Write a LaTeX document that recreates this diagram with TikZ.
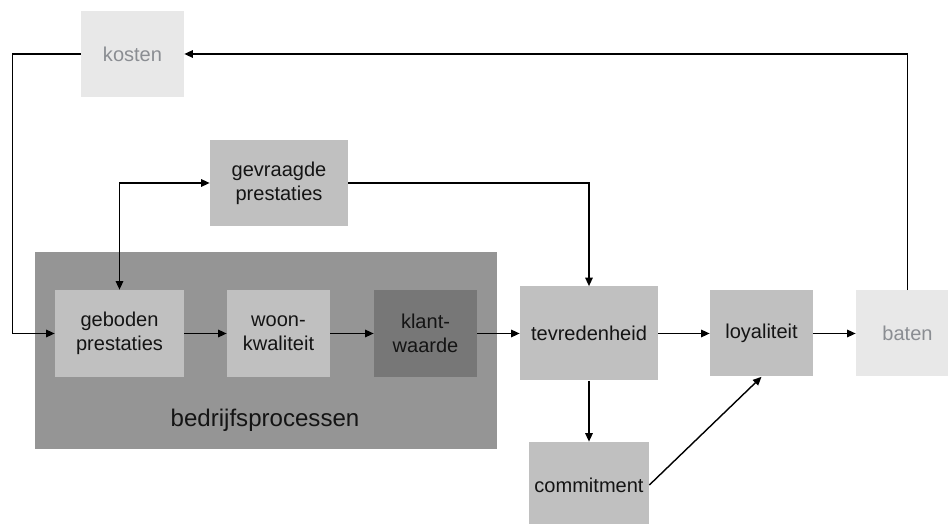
\documentclass[tikz,border=0pt]{standalone}
\usepackage{fontspec}
\setmainfont{Liberation Sans}
\usepackage{tikz}
\usetikzlibrary{arrows.meta,positioning}
\definecolor{paleGray}{HTML}{E8E8E8}
\definecolor{midGray}{HTML}{C0C0C0}
\definecolor{areaGray}{HTML}{959595}
\definecolor{darkGray}{HTML}{777777}
\definecolor{fadedText}{HTML}{8A8D92}
\definecolor{inkText}{HTML}{141414}
\tikzset{
  blockBox/.style={%
    rectangle,
    fill=midGray,
    text=inkText,
    align=center,
    inner sep=0pt,
    font=\fontsize{11.4}{13.6}\selectfont,
    minimum width=2.06cm,
    minimum height=1.74cm},
  paleBox/.style={%
    blockBox,
    fill=paleGray,
    text=fadedText},
  darkBox/.style={%
    blockBox,
    fill=darkGray},
  areaBox/.style={%
    fill=areaGray},
  flowLine/.style={%
    draw=black,
    line width=0.8pt,
    -{Triangle[length=1.7mm,width=1.5mm]}},
  }

\begin{document}
\begin{tikzpicture}
  \useasboundingbox (0,0) rectangle (18.96,10.48);
  % bedrijfsprocessen
  \fill[areaBox] (0.7,1.5) rectangle (9.94,5.44);
  \node[text=inkText,font=\fontsize{13.7}{16}\selectfont] (processen) at (5.3,2.08) {bedrijfsprocessen};
  \node[blockBox,minimum width=2.58cm] (geboden) at (2.39,3.81) {geboden\\prestaties};
  \node[blockBox] (woon) at (5.57,3.81) {woon-\\kwaliteit};
  \node[darkBox] (klant) at (8.51,3.81) {klant-\\waarde};
  % overige blokken
  \node[paleBox,minimum height=1.72cm] (kosten) at (2.65,9.4) {kosten};
  \node[blockBox,minimum width=2.76cm,minimum height=1.72cm] (gevraagd) at (5.58,6.82) {gevraagde\\prestaties};
  \node[blockBox,minimum width=2.76cm,minimum height=1.88cm] (tevreden) at (11.78,3.81) {tevredenheid};
  \node[blockBox,minimum height=1.72cm] (loyaal) at (15.23,3.81) {loyaliteit};
  \node[paleBox,minimum height=1.72cm] (baten) at (18.15,3.81) {baten};
  \node[blockBox,minimum width=2.4cm,minimum height=1.72cm] (commitment) at (11.78,0.78) {commitment};
  % verbindingen
  \draw[flowLine] (geboden) -- (woon);
  \draw[flowLine] (woon) -- (klant);
  \draw[flowLine] (klant) -- (tevreden);
  \draw[flowLine] (tevreden) -- (loyaal);
  \draw[flowLine] (loyaal) -- (baten);
  \draw[flowLine] (tevreden) -- (commitment);
  \draw[flowLine] (commitment.east) -- (loyaal.south);
  \draw[flowLine] (gevraagd.east) -| (tevreden.north);
  \draw[flowLine,{Triangle[length=1.7mm,width=1.5mm]}-{Triangle[length=1.7mm,width=1.5mm]}] (gevraagd.west) -| (geboden.north);
  \draw[flowLine] (baten.north) |- (kosten.east);
  \draw[flowLine] (kosten.west) -- ++(-1.36,0) |- (geboden.west);
\end{tikzpicture}
\end{document}
